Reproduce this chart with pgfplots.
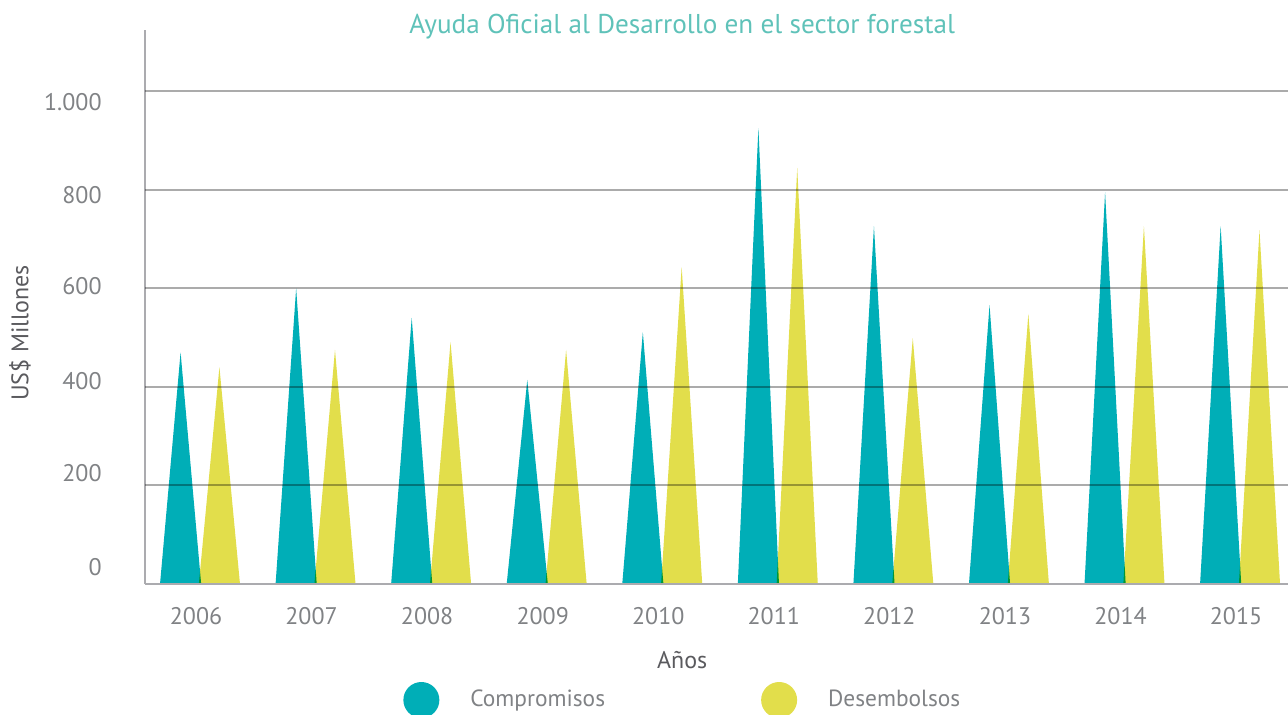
\documentclass[border=0pt]{standalone}
\usepackage{pgfplots}
\pgfplotsset{compat=1.18}
\usepackage{fontspec}
\setmainfont{PT Sans}
\definecolor{cteal}{HTML}{00AEB7}
\definecolor{cyel}{HTML}{E2DE4B}
\definecolor{ctitle}{HTML}{5FC2B9}
\definecolor{ctick}{HTML}{808285}
\definecolor{cax}{HTML}{ABABAF}
\definecolor{clab}{HTML}{5A5A5E}
\begin{document}
\begin{tikzpicture}
\useasboundingbox (-72.5pt,-65.5pt) rectangle (571.5pt,292pt);
\begin{axis}[
  at={(0pt,0pt)}, anchor=south west,
  scale only axis, width=571.5pt, height=277pt,
  xmin=-0.476, xmax=9.415, ymin=0, ymax=1124,
  axis x line*=bottom, axis y line*=left,
  axis line style={-, cax, line width=1pt},
  major tick length=0pt,
  xtick={0,...,9},
  xticklabels={2006,2007,2008,2009,2010,2011,2012,2013,2014,2015},
  xticklabel style={anchor=base, inner sep=0pt, yshift=-20.5pt, xshift=-2pt, font=\fontsize{12pt}{14pt}\selectfont, text=ctick},
  ytick={18,207.5,395,588,772,961},
  yticklabels={0,200,400,600,800,{1.000}},
  yticklabel style={anchor=base east, inner sep=0pt, xshift=-21.5pt, font=\fontsize{12pt}{14pt}\selectfont, text=ctick},
  extra y ticks={200,400,600,800,1000},
  extra y tick labels={},
  extra y tick style={grid=major, major grid style={black, opacity=0.33, line width=1pt}},
  axis on top,
  title={Ayuda Oficial al Desarrollo en el sector forestal},
  title style={at={(axis description cs:0.47,1)}, anchor=base, yshift=-8pt, inner sep=0pt, font=\fontsize{13.6pt}{16pt}\selectfont, text=ctitle},
  xlabel={Años},
  xlabel style={at={(axis description cs:0.47,-0.137)}, anchor=center, font=\fontsize{12pt}{14pt}\selectfont, text=clab},
  ylabel={US\$ Millones},
  ylabel style={at={(axis description cs:-0.1094,0.453)}, anchor=center, font=\fontsize{12pt}{14pt}\selectfont, text=clab},
  legend columns=2,
  legend image code/.code={\fill[#1,draw=none] (9pt,0pt) circle (9pt);},
  legend style={at={(axis description cs:0.2257,-0.2094)}, anchor=west, draw=none, fill=none, inner sep=0pt,
    nodes={inner sep=0pt, text=ctick, font=\fontsize{11.7pt}{14pt}\selectfont},
    /tikz/every odd column/.append style={column sep=15.5pt},
    /tikz/every even column/.append style={column sep=78pt}},
]
% Compromisos
\addplot[draw=none, fill=cteal] coordinates {
 (-0.346,0) (-0.168,470) (0.010,0)
 (0.654,0) (0.832,600) (1.010,0)
 (1.654,0) (1.832,540) (2.010,0)
 (2.654,0) (2.832,414) (3.010,0)
 (3.654,0) (3.832,511) (4.010,0)
 (4.654,0) (4.832,925) (5.010,0)
 (5.654,0) (5.832,726) (6.010,0)
 (6.654,0) (6.832,566) (7.010,0)
 (7.654,0) (7.832,795) (8.010,0)
 (8.654,0) (8.832,726) (9.010,0)
} -- cycle;
\addlegendentry{Compromisos}
% Desembolsos
\addplot[draw=none, fill=cyel, blend mode=multiply] coordinates {
 (-0.010,0) (0.168,440) (0.346,0)
 (0.990,0) (1.168,475) (1.346,0)
 (1.990,0) (2.168,491) (2.346,0)
 (2.990,0) (3.168,475) (3.346,0)
 (3.990,0) (4.168,643) (4.346,0)
 (4.990,0) (5.168,844) (5.346,0)
 (5.990,0) (6.168,499) (6.346,0)
 (6.990,0) (7.168,548) (7.346,0)
 (7.990,0) (8.168,726) (8.346,0)
 (8.990,0) (9.168,718) (9.346,0)
} -- cycle;
\addlegendentry{Desembolsos}
\end{axis}
\end{tikzpicture}
\end{document}
